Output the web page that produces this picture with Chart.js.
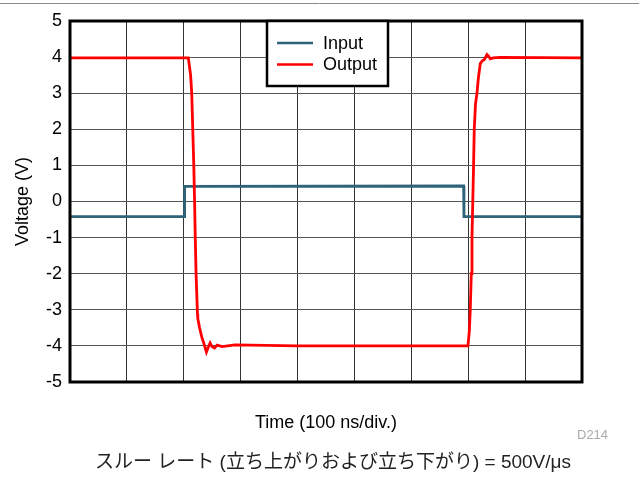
<!DOCTYPE html>
<html>
<head>
<meta charset="utf-8">
<script src="https://cdn.jsdelivr.net/npm/chart.js@4"></script>
<style>
  html, body { margin: 0; padding: 0; background: #fff; }
  #wrap { width: 639px; height: 477px; }
</style>
</head>
<body>
<div id="wrap"><canvas id="slewChart" width="639" height="477"></canvas></div>
<script>
// Time axis in ns (100 ns per division, 9 divisions)
const timeMin = 0;
const timeMax = 900;
const timeStep = 100;

// Input square wave
const inputTime = [0, 201, 201.5, 692, 692.5, 900];
const inputVolt = [-0.42, -0.42, 0.42, 0.43, -0.42, -0.42];

// Amplifier output
const outputTime = [0, 150, 208, 212, 214, 215.8, 217.6, 219, 220.2, 221.6, 224, 224.6,
    227.8, 231.6, 235.7, 239.8, 242.7, 246.3, 249.8, 254.2, 258.6, 267.4, 290, 400, 699.5,
    701.9, 703.6, 705.4, 706.6, 708, 709.4, 710.6, 712.8, 715.4, 717.7, 721.2, 724.7,
    728.2, 733, 736.1, 738.8, 744, 756.4, 900];
const outputVolt = [3.98, 3.98, 3.98, 3.5, 3.0, 2.0, 1.0, 0, -1.0, -2.0, -3.1, -3.24,
    -3.5, -3.75, -3.95, -4.17, -4.05, -3.92, -4.02, -4.06, -3.98, -4.02, -3.97, -4.0, -4.0,
    -3.6, -3.0, -2.0, -1.0, 0, 1.0, 2.0, 2.7, 3.0, 3.4, 3.82, 3.9,
    3.93, 4.07, 4.02, 3.95, 3.98, 3.99, 3.98];

// Voltage axis
const voltMin = -5;
const voltMax = 5;

const seriesNames = ['Input', 'Output'];
const seriesColors = ['#2e6379', '#ff0000'];

const xyPoints = (xs, ys) => xs.map((x, i) => ({ x: x, y: ys[i] }));

const FONT = '"Liberation Sans", Arial, sans-serif';

// Frame, legend box, rule line and notes
const decorations = {
    id: 'decorations',
    afterDraw(chart) {
        const { ctx, chartArea: a } = chart;
        ctx.save();

        // thin rule across the top of the page
        ctx.strokeStyle = '#8a8a8a';
        ctx.lineWidth = 1;
        ctx.beginPath();
        ctx.moveTo(0, 3.5);
        ctx.lineTo(chart.width, 3.5);
        ctx.stroke();

        // heavy frame round the plot
        ctx.strokeStyle = '#000';
        ctx.lineWidth = 3;
        ctx.strokeRect(a.left, a.top, a.right - a.left, a.bottom - a.top);

        // legend
        const bx = 267, by = a.top, bw = 121, bh = 65;
        ctx.fillStyle = '#fff';
        ctx.fillRect(bx, by, bw, bh);
        ctx.lineWidth = 2.5;
        ctx.strokeRect(bx, by, bw, bh);
        ctx.font = '18px ' + FONT;
        ctx.textBaseline = 'middle';
        chart.data.datasets.forEach((ds, i) => {
            const ly = 43 + i * 21.5;
            ctx.strokeStyle = ds.borderColor;
            ctx.lineWidth = 2.5;
            ctx.beginPath();
            ctx.moveTo(277, ly);
            ctx.lineTo(313, ly);
            ctx.stroke();
            ctx.fillStyle = '#000';
            ctx.textAlign = 'left';
            ctx.fillText(ds.label, 323, ly + 1);
        });

        // figure id
        ctx.fillStyle = '#aaaaaa';
        ctx.font = '13px ' + FONT;
        ctx.textAlign = 'left';
        ctx.fillText('D214', 577, 435);

        // caption
        ctx.fillStyle = '#222';
        ctx.font = '19px "Liberation Sans", "Noto Sans CJK JP", sans-serif';
        ctx.textAlign = 'center';
        ctx.fillText('スルー レート (立ち上がりおよび立ち下がり) = 500V/μs', 333, 463);

        ctx.restore();
    }
};

const ctx = document.getElementById('slewChart').getContext('2d');
const chart = new Chart(ctx, {
    type: 'scatter',
    data: {
        datasets: [
            {
                label: seriesNames[0],
                data: xyPoints(inputTime, inputVolt),
                borderColor: seriesColors[0],
                backgroundColor: seriesColors[0],
                borderWidth: 2.8,
                showLine: true,
                pointRadius: 0,
                tension: 0,
                order: 1
            },
            {
                label: seriesNames[1],
                data: xyPoints(outputTime, outputVolt),
                borderColor: seriesColors[1],
                backgroundColor: seriesColors[1],
                borderWidth: 2.8,
                showLine: true,
                pointRadius: 0,
                tension: 0,
                order: 0
            }
        ]
    },
    options: {
        responsive: false,
        animation: false,
        devicePixelRatio: 1,
        layout: { padding: { top: 21, right: 57, left: 0, bottom: 0 } },
        plugins: {
            legend: { display: false },
            tooltip: { enabled: false }
        },
        scales: {
            x: {
                type: 'linear',
                min: timeMin,
                max: timeMax,
                ticks: { stepSize: timeStep, display: false },
                grid: { color: '#333', lineWidth: 1, drawTicks: false },
                border: { display: false },
                title: {
                    display: true,
                    text: 'Time (100 ns/div.)',
                    color: '#000',
                    font: { family: FONT, size: 18 },
                    padding: { top: 0, bottom: 43 }
                },
                afterFit: s => { s.height = 95; }
            },
            y: {
                min: voltMin,
                max: voltMax,
                ticks: {
                    stepSize: 1,
                    color: '#000',
                    padding: 8,
                    font: { family: FONT, size: 18 }
                },
                grid: { color: '#555', lineWidth: 1, drawTicks: false },
                border: { display: false },
                title: {
                    display: true,
                    text: 'Voltage (V)',
                    color: '#000',
                    font: { family: FONT, size: 18 },
                    padding: { top: 12, bottom: 0 }
                },
                afterFit: s => { s.width = 70; }
            }
        }
    },
    plugins: [decorations]
});
</script>
</body>
</html>
